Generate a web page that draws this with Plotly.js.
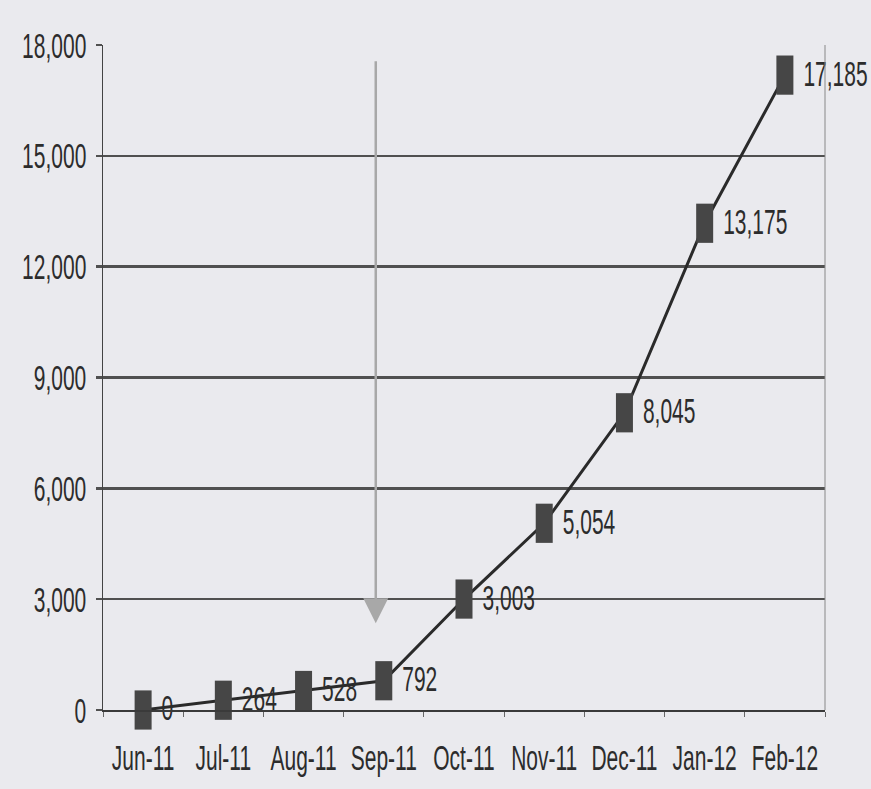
<!DOCTYPE html>
<html>
<head>
<meta charset="utf-8">
<script src="https://cdn.plot.ly/plotly-3.0.1.min.js"></script>
<style>html,body{margin:0;padding:0;background:#eaeaee;}#chart{width:871px;height:789px;}</style>
</head>
<body>
<div id="chart"></div>
<script>
const months = ["Jun-11","Jul-11","Aug-11","Sep-11","Oct-11","Nov-11","Dec-11","Jan-12","Feb-12"];
const values = [0, 264, 528, 792, 3003, 5054, 8045, 13175, 17185];
const valueLabels = ["0","264","528","792","3,003","5,054","8,045","13,175","17,185"];
const yTicks = [0, 3000, 6000, 9000, 12000, 15000, 18000];
const yTickLabels = ["0","3,000","6,000","9,000","12,000","15,000","18,000"];

const font = "'Liberation Sans', Arial, sans-serif";
const FS = 21;
const STRETCH = 1.7;

const lineTrace = {
  x: months, y: values, type: "scatter", mode: "lines",
  line: {color: "#2a2a2a", width: 3}, hoverinfo: "skip"
};
const markerTrace = {
  x: months, y: values, type: "scatter", mode: "markers+text",
  text: valueLabels,
  textposition: "middle right",
  textfont: {family: font, size: FS, color: "#2c2c2c"},
  marker: {symbol: "line-ns", size: 28, color: "#464646", line: {color: "#464646", width: 17}},
  cliponaxis: false, hoverinfo: "skip"
};

const layout = {
  width: 871, height: 789,
  margin: {l: 103, r: 46, t: 45, b: 79},
  paper_bgcolor: "#eaeaee",
  plot_bgcolor: "#eaeaee",
  showlegend: false,
  font: {family: font, size: FS, color: "#2c2c2c"},
  xaxis: {
    type: "category",
    range: [-0.5, 8.5],
    tickangle: 0,
    showgrid: false,
    showline: true, linecolor: "#3a3a3a", linewidth: 2,
    ticks: "outside", tickson: "boundaries", ticklen: 5, tickcolor: "#666", tickwidth: 1,
    ticklabelstandoff: 20,
    tickfont: {family: font, size: FS, color: "#2c2c2c"},
    zeroline: false
  },
  yaxis: {
    range: [0, 18000],
    tickvals: yTicks,
    ticktext: yTickLabels,
    showgrid: true, gridcolor: "#505050", gridwidth: 2.5,
    showline: true, linecolor: "#444", linewidth: 1.5,
    ticks: "outside", ticklen: 6, tickcolor: "#505050", tickwidth: 2.5,
    ticklabelstandoff: 5,
    tickfont: {family: font, size: FS, color: "#2c2c2c"},
    zeroline: false
  },
  shapes: [
    {type: "line", xref: "paper", yref: "paper", x0: 1, x1: 1, y0: 0, y1: 1, line: {color: "#888", width: 1}}
  ],
  annotations: [
    {
      x: 2.9, y: 2350, ax: 2.9, ay: 17600,
      xref: "x", yref: "y", axref: "x", ayref: "y",
      showarrow: true, arrowhead: 2, arrowsize: 2, arrowwidth: 2.5,
      arrowcolor: "#a8a8a8", text: ""
    }
  ]
};

function stretch(selector, pivot) {
  document.querySelectorAll(selector).forEach(t => {
    const bb = t.getBBox();
    if (!bb.width) return;
    const px = bb.x + bb.width / 2;
    const py = pivot === 'top' ? bb.y : bb.y + bb.height / 2;
    const prev = t.getAttribute('transform') || '';
    t.setAttribute('transform',
      `${prev} translate(${px.toFixed(2)},${py.toFixed(2)}) scale(1,${STRETCH}) translate(${(-px).toFixed(2)},${(-py).toFixed(2)})`);
  });
}

Plotly.newPlot("chart", [lineTrace, markerTrace], layout, {displayModeBar: false, staticPlot: true}).then(() => {
  stretch('#chart .xtick text', 'top');
  stretch('#chart .ytick text', 'middle');
  stretch('#chart .textpoint text', 'middle');
});
</script>
</body>
</html>
